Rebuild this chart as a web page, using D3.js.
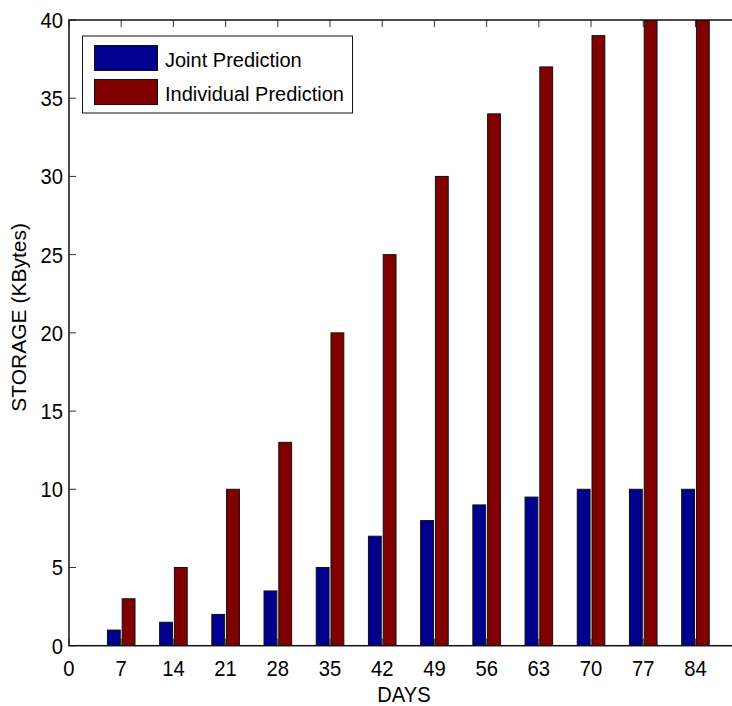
<!DOCTYPE html>
<html><head><meta charset="utf-8">
<script src="https://cdn.jsdelivr.net/npm/d3@7"></script>
<style>body{margin:0;background:#fff}svg{display:block}text{font-family:"Liberation Sans",Arial,Helvetica,sans-serif;fill:#000}</style>
</head><body><svg id="c" width="732" height="706"></svg>
<script>
const days = [7,14,21,28,35,42,49,56,63,70,77,84];
const joint = [1,1.5,2,3.5,5,7,8,9,9.5,10,10,10];
const individual = [3,5,10,13,20,25,30,34,37,39,40,40];
const xTicks = [0,7,14,21,28,35,42,49,56,63,70,77,84];
const yTicks = [0,5,10,15,20,25,30,35,40];
const seriesNames = ["Joint Prediction","Individual Prediction"];
const colors = ["#00008f","#800000"];

const svg = d3.select("#c");
const x = d3.scaleLinear().domain([0,90]).range([69,740.2]);
const y = d3.scaleLinear().domain([0,40]).range([645.7,20]);

svg.append("defs").append("clipPath").attr("id","clip")
  .append("rect").attr("x",69).attr("y",20).attr("width",680).attr("height",625.7);

// inward ticks (bottom, top, left)
const tk = svg.append("g").attr("stroke","#555").attr("stroke-width",1);
xTicks.forEach(t=>{
  tk.append("line").attr("x1",x(t)).attr("x2",x(t)).attr("y1",y(0)).attr("y2",y(0)-7);
  tk.append("line").attr("x1",x(t)).attr("x2",x(t)).attr("y1",y(40)).attr("y2",y(40)+7).attr("stroke","#333");
});
yTicks.forEach(t=>{
  tk.append("line").attr("x1",x(0)).attr("x2",x(0)+7).attr("y1",y(t)).attr("y2",y(t)).attr("stroke","#333");
});

// bars
const bars = svg.append("g").attr("clip-path","url(#clip)");
const offs = [[-1.85,-0.13],[0.13,1.85]];
[joint,individual].forEach((vals,si)=>{
  bars.selectAll(null).data(days).enter().append("rect")
    .attr("x",(d)=>x(d+offs[si][0]))
    .attr("width",(d)=>x(d+offs[si][1])-x(d+offs[si][0]))
    .attr("y",(d,i)=>y(vals[i]))
    .attr("height",(d,i)=>y(0)-y(vals[i]))
    .attr("fill",colors[si]).attr("stroke","#111").attr("stroke-width",1);
});

// axes box
svg.append("rect").attr("x",x(0)).attr("y",y(40)).attr("width",x(90)-x(0)).attr("height",y(0)-y(40))
  .attr("fill","none").attr("stroke","#111").attr("stroke-width",1.5);

// tick labels
xTicks.forEach(t=>{
  svg.append("text").attr("transform",`translate(${x(t)},675.5) scale(0.92,1)`)
    .attr("text-anchor","middle").attr("font-size",22).text(t);
});
yTicks.forEach(t=>{
  svg.append("text").attr("transform",`translate(63,${y(t)}) scale(0.92,1)`)
    .attr("text-anchor","end").attr("dy","0.36em").attr("font-size",22).text(t);
});

// axis labels
svg.append("text").attr("transform","translate(404,702) scale(0.92,1)")
  .attr("text-anchor","middle").attr("font-size",22).text("DAYS");
svg.append("text").attr("transform","translate(26,317.4) rotate(-90)")
  .attr("text-anchor","middle").attr("font-size",21).text("STORAGE (KBytes)");

// legend
const lg = svg.append("g");
lg.append("rect").attr("x",82.5).attr("y",36).attr("width",270).attr("height",77)
  .attr("fill","#fff").attr("stroke","#111").attr("stroke-width",1);
seriesNames.forEach((n,i)=>{
  const cy = 58 + i*34;
  lg.append("rect").attr("x",94.5).attr("y",cy-12.5).attr("width",63).attr("height",25)
    .attr("fill",colors[i]).attr("stroke","#111").attr("stroke-width",1);
  lg.append("text").attr("x",165).attr("y",cy+8.7).attr("font-size",20).text(n);
});
</script></body></html>
